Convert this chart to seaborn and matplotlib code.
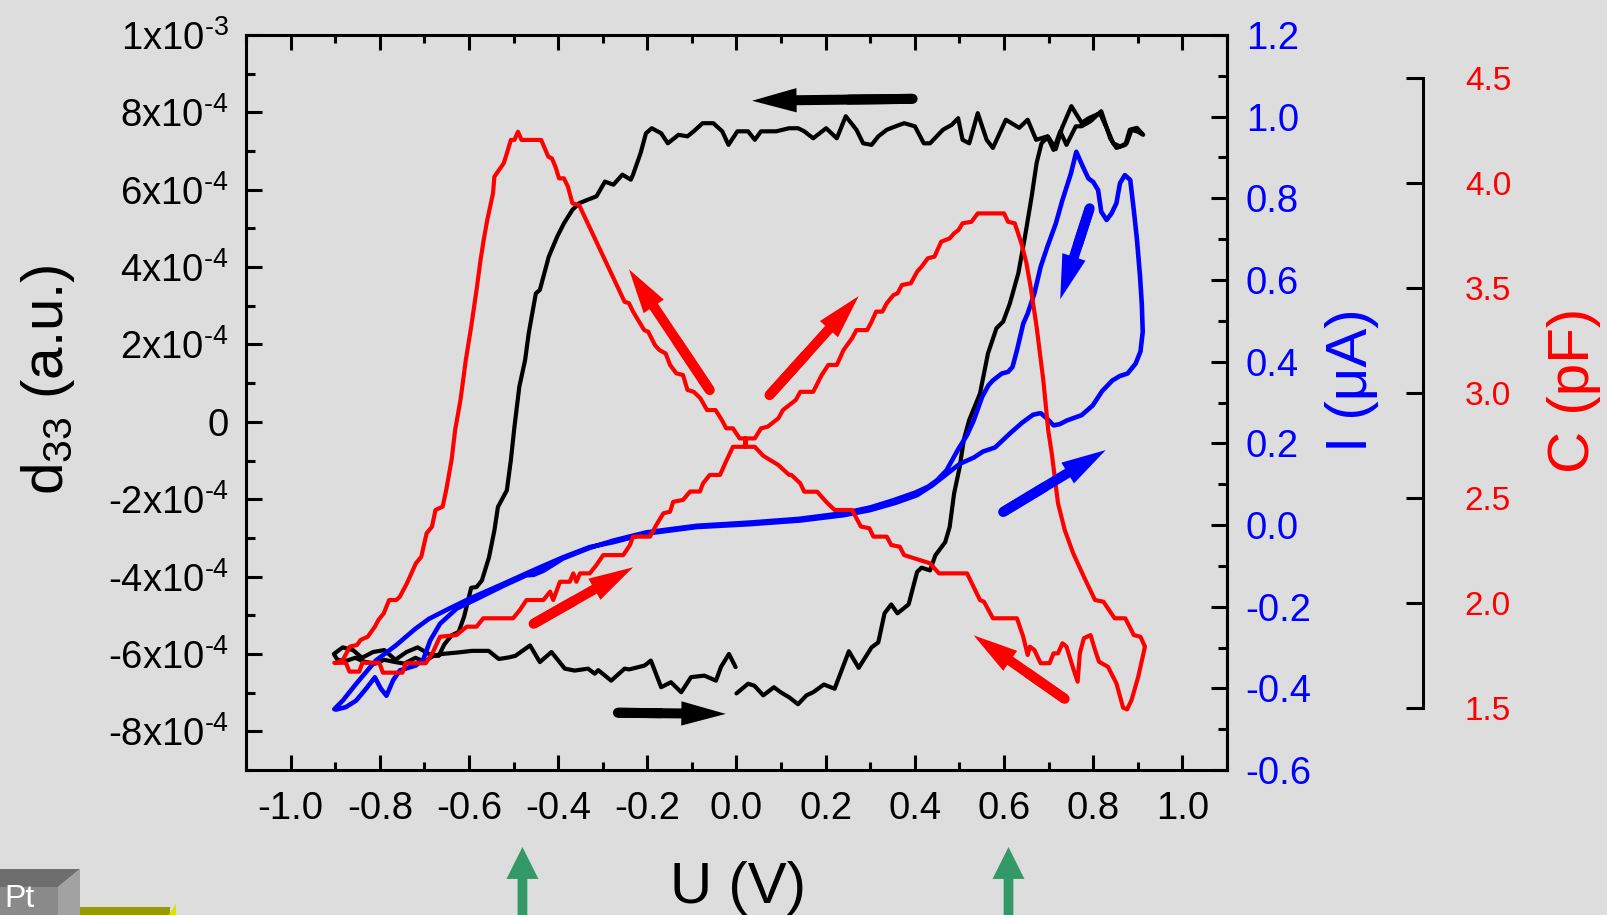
import matplotlib
matplotlib.use("Agg")
import numpy as np
import matplotlib.pyplot as plt
import matplotlib.transforms as mtransforms
from matplotlib.patches import Polygon, FancyArrowPatch, ArrowStyle
from matplotlib.ticker import FixedLocator, MultipleLocator, NullLocator
import seaborn as sns

# ---------------- piezoresponse d33 (units of 1e-4) ----------------
d33_up_u = [0.000, 0.026, 0.040, 0.060, 0.084, 0.099, 0.118, 0.138, 0.157, 0.172,
            0.196, 0.220, 0.252, 0.274, 0.303, 0.318, 0.332, 0.347, 0.361, 0.386,
            0.405, 0.415, 0.434, 0.446, 0.468, 0.478, 0.488, 0.500, 0.510, 0.522,
            0.546, 0.564, 0.583, 0.598, 0.613, 0.632, 0.647, 0.662, 0.673, 0.684,
            0.699, 0.710, 0.716, 0.730, 0.751, 0.774, 0.790, 0.815, 0.830, 0.845,
            0.860, 0.875, 0.886, 0.900, 0.912]
d33_up = [-7.02, -6.77, -6.82, -7.07, -6.86, -6.99, -7.12, -7.30, -7.07, -6.99,
          -6.79, -6.90, -5.93, -6.36, -5.83, -5.70, -4.95, -4.72, -4.95, -4.72,
          -3.88, -3.77, -3.84, -3.45, -3.11, -2.72, -1.85, -1.20, -0.45, 0.05,
          0.73, 1.77, 2.42, 2.59, 3.06, 3.84, 4.79, 5.83, 6.69, 7.20,
          7.37, 7.16, 7.05, 7.60, 8.16, 7.73, 7.85, 7.98, 7.60, 7.20,
          7.12, 7.20, 7.55, 7.50, 7.42]

d33_top_u = [0.898, 0.882, 0.872, 0.852, 0.838, 0.818, 0.794, 0.774, 0.761, 0.740,
             0.726, 0.711, 0.697, 0.672, 0.653, 0.634, 0.604, 0.575, 0.561, 0.541,
             0.522, 0.507, 0.497, 0.483, 0.463, 0.434, 0.420, 0.400, 0.376, 0.357,
             0.337, 0.318, 0.303, 0.284, 0.269, 0.245, 0.225, 0.201, 0.172, 0.152,
             0.138, 0.118, 0.089, 0.055, 0.041, 0.026, 0.002, -0.018, -0.032, -0.052,
             -0.076, -0.096, -0.110, -0.130, -0.154, -0.169, -0.190, -0.203]
d33_top = [7.60, 7.55, 7.16, 7.08, 7.33, 8.03, 7.77, 7.64, 7.64, 7.16,
           7.51, 7.03, 7.38, 7.29, 7.81, 7.60, 7.81, 7.08, 7.29, 7.98,
           7.20, 7.29, 7.85, 7.68, 7.55, 7.20, 7.20, 7.64, 7.72, 7.64,
           7.55, 7.38, 7.16, 7.20, 7.55, 7.90, 7.33, 7.59, 7.33, 7.51,
           7.59, 7.59, 7.51, 7.51, 7.29, 7.51, 7.51, 7.16, 7.51, 7.72,
           7.72, 7.51, 7.38, 7.42, 7.20, 7.46, 7.59, 7.46]

d33_down_u = [-0.215, -0.232, -0.237, -0.256, -0.276, -0.295, -0.314, -0.334, -0.353, -0.368,
              -0.387, -0.402, -0.421, -0.441, -0.450, -0.466, -0.474, -0.487, -0.498, -0.506,
              -0.515, -0.535, -0.543, -0.555, -0.571, -0.583, -0.595, -0.611, -0.623, -0.639,
              -0.655, -0.668, -0.690, -0.715, -0.740, -0.765, -0.790, -0.815, -0.840, -0.860,
              -0.883, -0.903]
d33_down = [6.95, 6.39, 6.26, 6.39, 6.13, 6.21, 5.83, 5.74, 5.65, 5.48,
            5.13, 4.79, 4.27, 3.41, 3.32, 2.29, 1.60, 0.91, -0.13, -0.99,
            -1.77, -2.20, -2.81, -3.50, -4.10, -4.27, -4.29, -5.04, -5.43, -5.52,
            -5.75, -6.05, -6.00, -5.83, -5.95, -6.15, -5.90, -5.95, -6.10, -5.90,
            -5.83, -6.00]

d33_low_u = [-0.895, -0.876, -0.855, -0.835, -0.810, -0.790, -0.770, -0.745, -0.720, -0.700,
             -0.680, -0.660, -0.623, -0.593, -0.556, -0.533, -0.511, -0.496, -0.463, -0.441,
             -0.415, -0.385, -0.363, -0.333, -0.318, -0.310, -0.281, -0.251, -0.241, -0.206,
             -0.192, -0.169, -0.147, -0.124, -0.102, -0.072, -0.046, -0.035, -0.017, -0.002]
d33_low = [-6.15, -6.18, -6.10, -6.20, -6.25, -6.15, -6.20, -6.25, -6.10, -6.20,
           -6.05, -6.00, -5.96, -5.92, -5.92, -6.13, -6.09, -6.05, -5.78, -6.21,
           -5.95, -6.38, -6.43, -6.38, -6.51, -6.42, -6.69, -6.38, -6.40, -6.30,
           -6.17, -6.86, -6.73, -6.99, -6.60, -6.56, -6.69, -6.34, -6.00, -6.34]
D33_UNIT = 1e-4

# ---------------- current I (uA) ----------------
i_fwd_u = [-0.902, -0.883, -0.853, -0.809, -0.764, -0.720, -0.690, -0.645, -0.600, -0.523,
           -0.448, -0.389, -0.329, -0.276, -0.202, -0.089, 0.030, 0.143, 0.240, 0.298,
           0.356, 0.405, 0.439, 0.473, 0.501, 0.532, 0.553, 0.580, 0.613, 0.640,
           0.665, 0.682, 0.695, 0.711, 0.725, 0.741, 0.774, 0.799, 0.820, 0.843,
           0.860, 0.877, 0.895, 0.906, 0.911]
i_fwd = [-0.451, -0.430, -0.389, -0.332, -0.295, -0.254, -0.230, -0.205, -0.181, -0.144,
         -0.107, -0.079, -0.054, -0.042, -0.021, -0.005, 0.002, 0.011, 0.024, 0.036,
         0.054, 0.073, 0.097, 0.126, 0.150, 0.165, 0.180, 0.190, 0.224, 0.250,
         0.270, 0.274, 0.262, 0.244, 0.247, 0.256, 0.269, 0.293, 0.328, 0.354,
         0.365, 0.371, 0.395, 0.425, 0.473]

i_top_u = [0.909, 0.905, 0.898, 0.891, 0.883, 0.871, 0.860, 0.852, 0.841, 0.830,
           0.818, 0.811, 0.800, 0.789, 0.777, 0.762, 0.750, 0.731, 0.716, 0.697,
           0.682, 0.668, 0.653, 0.643, 0.629, 0.619, 0.609, 0.595, 0.575, 0.565,
           0.551, 0.532, 0.517, 0.498, 0.471]
i_top = [0.540, 0.608, 0.700, 0.771, 0.845, 0.857, 0.837, 0.788, 0.763, 0.747,
         0.767, 0.820, 0.840, 0.849, 0.877, 0.914, 0.861, 0.796, 0.738, 0.681,
         0.632, 0.567, 0.518, 0.493, 0.428, 0.387, 0.375, 0.371, 0.354, 0.342,
         0.314, 0.256, 0.220, 0.187, 0.134]

i_back_u = [0.450, 0.430, 0.400, 0.350, 0.300, 0.240, 0.140, 0.030, -0.090, -0.202,
            -0.276, -0.329, -0.389, -0.433, -0.455, -0.471, -0.523, -0.575, -0.628, -0.665,
            -0.687, -0.702, -0.719, -0.755, -0.770, -0.785, -0.798, -0.811, -0.830, -0.853,
            -0.876, -0.898]
i_back = [0.110, 0.094, 0.079, 0.060, 0.043, 0.029, 0.015, 0.006, -0.002, -0.018,
          -0.038, -0.056, -0.082, -0.112, -0.122, -0.123, -0.149, -0.177, -0.205, -0.242,
          -0.283, -0.328, -0.344, -0.356, -0.380, -0.418, -0.400, -0.373, -0.400, -0.430,
          -0.446, -0.452]

# ---------------- capacitance C (pF) ----------------
c_up_u = [-0.902, -0.876, -0.868, -0.846, -0.839, -0.801, -0.793, -0.749, -0.742, -0.697,
          -0.682, -0.665, -0.628, -0.605, -0.583, -0.568, -0.501, -0.486, -0.471, -0.433,
          -0.418, -0.411, -0.396, -0.374, -0.366, -0.359, -0.351, -0.329, -0.314, -0.299,
          -0.254, -0.239, -0.232, -0.194, -0.180, -0.164, -0.149, -0.142, -0.120, -0.104,
          -0.082, -0.075, -0.060, -0.037, -0.022, -0.008, 0.020, 0.020, 0.041, 0.055,
          0.070, 0.094, 0.104, 0.133, 0.143, 0.172, 0.191, 0.206, 0.225, 0.240,
          0.259, 0.269, 0.293, 0.303, 0.313, 0.327, 0.337, 0.352, 0.361, 0.371,
          0.391, 0.405, 0.415, 0.429, 0.444, 0.459, 0.478, 0.488, 0.498, 0.507,
          0.527, 0.541, 0.600, 0.609, 0.624, 0.639, 0.650, 0.660, 0.673, 0.688,
          0.699, 0.707, 0.721, 0.736, 0.755, 0.779, 0.804, 0.823, 0.848, 0.872,
          0.891, 0.906, 0.916]
c_up = [1.714, 1.714, 1.672, 1.672, 1.714, 1.714, 1.667, 1.667, 1.712, 1.712,
        1.759, 1.838, 1.846, 1.886, 1.886, 1.926, 1.926, 1.965, 2.013, 2.013,
        2.053, 2.013, 2.100, 2.100, 2.140, 2.100, 2.140, 2.140, 2.180, 2.227,
        2.227, 2.275, 2.315, 2.315, 2.370, 2.426, 2.434, 2.481, 2.490, 2.530,
        2.530, 2.569, 2.609, 2.609, 2.680, 2.743, 2.743, 2.783, 2.783, 2.831,
        2.839, 2.879, 2.918, 2.966, 3.005, 3.005, 3.085, 3.133, 3.133, 3.204,
        3.260, 3.299, 3.299, 3.339, 3.387, 3.387, 3.427, 3.466, 3.474, 3.514,
        3.522, 3.577, 3.601, 3.641, 3.649, 3.720, 3.736, 3.760, 3.776, 3.808,
        3.815, 3.855, 3.855, 3.815, 3.808, 3.712, 3.620, 3.500, 3.315, 3.061,
        2.823, 2.712, 2.474, 2.347, 2.236, 2.124, 2.013, 2.005, 1.926, 1.926,
        1.846, 1.838, 1.791]

c_down_u = [0.901, 0.886, 0.876, 0.867, 0.852, 0.833, 0.813, 0.804, 0.794, 0.779,
            0.770, 0.765, 0.755, 0.740, 0.731, 0.721, 0.711, 0.702, 0.682, 0.668,
            0.658, 0.653, 0.643, 0.629, 0.575, 0.555, 0.546, 0.517, 0.454, 0.434,
            0.376, 0.366, 0.347, 0.337, 0.307, 0.298, 0.279, 0.259, 0.220, 0.201,
            0.181, 0.152, 0.143, 0.123, 0.118, 0.094, 0.060, 0.041, 0.020, 0.020,
            0.007, -0.008, -0.023, -0.033, -0.047, -0.066, -0.081, -0.096, -0.110, -0.120,
            -0.135, -0.149, -0.159, -0.173, -0.183, -0.198, -0.207, -0.232, -0.241, -0.251,
            -0.353, -0.368, -0.378, -0.387, -0.398, -0.406, -0.414, -0.422, -0.430, -0.438,
            -0.482, -0.490, -0.498, -0.506, -0.515, -0.522, -0.535, -0.543, -0.546, -0.559,
            -0.567, -0.574, -0.583, -0.595, -0.607, -0.619, -0.631, -0.639, -0.651, -0.659,
            -0.675, -0.683, -0.695, -0.707, -0.719, -0.739, -0.755, -0.763, -0.779, -0.791,
            -0.803, -0.811, -0.827, -0.843, -0.851, -0.867, -0.875, -0.883, -0.899]
c_down = [1.648, 1.537, 1.492, 1.500, 1.616, 1.695, 1.719, 1.775, 1.846, 1.831,
          1.759, 1.624, 1.688, 1.791, 1.807, 1.759, 1.759, 1.712, 1.712, 1.775,
          1.791, 1.751, 1.838, 1.926, 1.926, 2.005, 2.013, 2.140, 2.140, 2.188,
          2.227, 2.267, 2.275, 2.315, 2.315, 2.355, 2.363, 2.442, 2.442, 2.481,
          2.529, 2.529, 2.569, 2.609, 2.609, 2.656, 2.700, 2.743, 2.743, 2.783,
          2.783, 2.831, 2.831, 2.871, 2.918, 2.918, 2.974, 3.005, 3.014, 3.085,
          3.093, 3.133, 3.188, 3.204, 3.228, 3.291, 3.299, 3.387, 3.427, 3.434,
          3.895, 3.903, 3.982, 4.022, 4.022, 4.077, 4.117, 4.125, 4.165, 4.205,
          4.205, 4.244, 4.205, 4.205, 4.141, 4.094, 4.054, 4.030, 3.951, 3.823,
          3.728, 3.633, 3.490, 3.315, 3.157, 2.966, 2.823, 2.680, 2.537, 2.458,
          2.442, 2.362, 2.331, 2.219, 2.188, 2.093, 2.029, 2.013, 2.013, 1.950,
          1.918, 1.886, 1.838, 1.823, 1.799, 1.791, 1.759, 1.727, 1.712]

# ---------------- ticks ----------------
u_ticks = [-1.0, -0.8, -0.6, -0.4, -0.2, 0.0, 0.2, 0.4, 0.6, 0.8, 1.0]
u_tick_labels = ["-1.0", "-0.8", "-0.6", "-0.4", "-0.2", "0.0", "0.2", "0.4", "0.6", "0.8", "1.0"]
d33_ticks = [-8e-4, -6e-4, -4e-4, -2e-4, 0.0, 2e-4, 4e-4, 6e-4, 8e-4, 1e-3]
d33_tick_labels = [r"-8x10$^{\text{-4}}$", r"-6x10$^{\text{-4}}$", r"-4x10$^{\text{-4}}$",
                   r"-2x10$^{\text{-4}}$", "0", r"2x10$^{\text{-4}}$", r"4x10$^{\text{-4}}$",
                   r"6x10$^{\text{-4}}$", r"8x10$^{\text{-4}}$", r"1x10$^{\text{-3}}$"]
i_ticks = [-0.6, -0.4, -0.2, 0.0, 0.2, 0.4, 0.6, 0.8, 1.0, 1.2]
i_tick_labels = ["-0.6", "-0.4", "-0.2", "0.0", "0.2", "0.4", "0.6", "0.8", "1.0", "1.2"]
c_ticks = [1.5, 2.0, 2.5, 3.0, 3.5, 4.0, 4.5]
c_tick_labels = ["1.5", "2.0", "2.5", "3.0", "3.5", "4.0", "4.5"]

# sweep-direction arrows: (colour, tail (U, d33 in 1e-4), tip (U, d33 in 1e-4))
sweep_arrows = [
    ("black", (0.395, 8.35), (0.035, 8.30)),
    ("black", (-0.266, -7.52), (-0.024, -7.55)),
    ("red", (-0.060, 0.82), (-0.241, 3.94)),
    ("red", (0.074, 0.69), (0.274, 3.25)),
    ("red", (-0.455, -5.22), (-0.232, -3.76)),
    ("red", (0.736, -7.16), (0.532, -5.52)),
    ("blue", (0.792, 5.52), (0.726, 3.17)),
    ("blue", (0.598, -2.33), (0.828, -0.73)),
]
# switching voltages marked below the axis
switch_u = [-0.48, 0.61]

# ---------------- style ----------------
BG = "#dddddd"
sns.set_theme(style="ticks")
plt.rcParams["font.family"] = ["Liberation Sans", "DejaVu Sans"]
plt.rcParams["mathtext.fontset"] = "custom"
plt.rcParams["mathtext.rm"] = "Liberation Sans"
plt.rcParams["mathtext.it"] = "Liberation Sans:italic"
plt.rcParams["mathtext.bf"] = "Liberation Sans:bold"
plt.rcParams["mathtext.default"] = "regular"
for key in ("text.color", "axes.labelcolor", "xtick.color", "ytick.color",
            "xtick.labelcolor", "ytick.labelcolor", "axes.edgecolor"):
    plt.rcParams[key] = "black"

W, H = 1608, 915
fig = plt.figure(figsize=(W / 100, H / 100), dpi=100, facecolor=BG)
ax = fig.add_axes([246 / W, 1 - 770 / H, 981 / W, 735 / H])
ax.set_facecolor(BG)
ax2 = ax.twinx()
ax3 = ax.twinx()
for a in (ax2, ax3):
    a.patch.set_visible(False)

LW_SPINE = 2.2
TICK_FS = 27.5

# ---- curves ----
u_d33 = d33_up_u + d33_top_u + d33_down_u + d33_low_u
d33 = np.array(d33_up + d33_top + d33_down + d33_low) * D33_UNIT
sns.lineplot(x=u_d33, y=d33, sort=False, estimator=None, errorbar=None,
             color="black", linewidth=3.0, ax=ax)

u_i = i_fwd_u + i_top_u + i_back_u
cur = i_fwd + i_top + i_back
sns.lineplot(x=u_i, y=cur, sort=False, estimator=None, errorbar=None,
             color="#0000ff", linewidth=3.3, ax=ax2)

u_c = c_up_u + c_down_u
cap = c_up + c_down
sns.lineplot(x=u_c, y=cap, sort=False, estimator=None, errorbar=None,
             color="#ff0000", linewidth=3.0, ax=ax3)

# ---- main axes (d33 vs U) ----
ax.set_xlim(-1.1, 1.1)
ax.set_ylim(-9e-4, 1e-3)
ax.xaxis.set_major_locator(FixedLocator(u_ticks))
ax.set_xticklabels(u_tick_labels)
ax.xaxis.set_minor_locator(MultipleLocator(0.1))
ax.yaxis.set_major_locator(FixedLocator(d33_ticks))
ax.set_yticklabels(d33_tick_labels)
ax.yaxis.set_minor_locator(MultipleLocator(1e-4))
ax.tick_params(axis="x", which="major", direction="in", length=11, width=LW_SPINE,
               labelsize=TICK_FS, pad=15, top=True, bottom=True, color="black",
               labelcolor="black")
ax.tick_params(axis="x", which="minor", direction="in", length=6, width=LW_SPINE,
               top=True, bottom=True, color="black")
ax.tick_params(axis="y", which="major", direction="in", length=11.5, width=LW_SPINE,
               labelsize=TICK_FS, pad=12.5, left=True, right=False, color="black",
               labelcolor="black")
ax.tick_params(axis="y", which="minor", direction="in", length=6.4, width=LW_SPINE,
               left=True, right=False, color="black")
for s in ax.spines.values():
    s.set_visible(True)
    s.set_linewidth(LW_SPINE)
    s.set_color("black")

ax.set_xlabel("U (V)", fontsize=42, color="black")
ax.xaxis.label.set_va("baseline")
ax.xaxis.set_label_coords(0.5015, -0.181)
ax.set_ylabel(r"d$_{33}$ (a.u.)", fontsize=42, color="black")
ax.yaxis.label.set_va("baseline")
ax.yaxis.set_label_coords(-0.187, 0.531)

# ---- current axis ----
ax2.set_ylim(-0.6, 1.2)
ax2.yaxis.set_major_locator(FixedLocator(i_ticks))
ax2.set_yticklabels(i_tick_labels)
ax2.yaxis.set_minor_locator(MultipleLocator(0.1))
ax2.tick_params(axis="y", which="major", direction="in", length=11.3, width=LW_SPINE,
                labelsize=TICK_FS, labelcolor="#0000ff", color="black", pad=13.5)
ax2.tick_params(axis="y", which="minor", direction="in", length=6.4, width=LW_SPINE,
                color="black")
for k in ("left", "top", "bottom"):
    ax2.spines[k].set_visible(False)
ax2.spines["right"].set_linewidth(LW_SPINE)
ax2.spines["right"].set_color("black")
ax2.set_ylabel("I (\u03bcA)", fontsize=42, color="#0000ff")
ax2.yaxis.label.set_va("baseline")
ax2.yaxis.set_label_coords(1.1427, 0.531)

# ---- capacitance axis ----
ax3.set_ylim(1.2032, 4.7049)
ax3.spines["right"].set_position(("axes", 1.2))
ax3.spines["right"].set_bounds(1.5, 4.5)
ax3.spines["right"].set_linewidth(LW_SPINE)
ax3.spines["right"].set_color("black")
for k in ("left", "top", "bottom"):
    ax3.spines[k].set_visible(False)
ax3.yaxis.set_major_locator(FixedLocator(c_ticks))
ax3.set_yticklabels(c_tick_labels)
ax3.yaxis.set_minor_locator(NullLocator())
ax3.tick_params(axis="y", which="major", direction="in", length=12, width=LW_SPINE,
                labelsize=24, labelcolor="#ff0000", color="black", pad=30)
ax3.set_ylabel("C (pF)", fontsize=42, color="#ff0000")
ax3.yaxis.label.set_va("baseline")
ax3.yaxis.set_label_coords(1.369, 0.517)


# ---- sweep direction arrows ----
def sweep_arrow(color, tail, tip, tail_w=7.2, head_w=17.5, head_l=32):
    t = (tail[0], tail[1] * D33_UNIT)
    p = (tip[0], tip[1] * D33_UNIT)
    body = FancyArrowPatch(t, p, transform=ax.transData,
                           arrowstyle=ArrowStyle.Simple(head_length=head_l, head_width=head_w,
                                                        tail_width=tail_w),
                           mutation_scale=1, lw=0, color=color,
                           shrinkA=0, shrinkB=0, zorder=6)
    ax3.add_artist(body)
    mid = (t[0] + 0.4 * (p[0] - t[0]), t[1] + 0.4 * (p[1] - t[1]))
    cap_end = FancyArrowPatch(t, mid, transform=ax.transData, arrowstyle="-",
                              lw=tail_w, capstyle="round", color=color,
                              shrinkA=0, shrinkB=0, zorder=6)
    ax3.add_artist(cap_end)


for col, tail, tip in sweep_arrows:
    c = {"black": "black", "red": "#ff0000", "blue": "#0000ff"}[col]
    sweep_arrow(c, tail, tip)

# ---- switching-voltage markers below the axis ----
blend = mtransforms.blended_transform_factory(ax.transData, fig.transFigure)
for u in switch_u:
    fig.add_artist(FancyArrowPatch((u, -0.05), (u, 1 - 847 / H), transform=blend,
                                   arrowstyle=ArrowStyle.Simple(head_length=23, head_width=23,
                                                                tail_width=7),
                                   mutation_scale=1, lw=0, color="#339966",
                                   shrinkA=0, shrinkB=0))


# ---- electrode sketch in the lower-left corner ----
def fp(x, y):
    return (x / W, 1 - y / H)


fig.add_artist(Polygon([fp(0, 869), fp(80, 869), fp(58, 887), fp(0, 887)],
                       closed=True, transform=fig.transFigure, color="#6e6e6e", lw=0))
fig.add_artist(Polygon([fp(0, 887), fp(58, 887), fp(58, 916), fp(0, 916)],
                       closed=True, transform=fig.transFigure, color="#8a8a8a", lw=0))
fig.add_artist(Polygon([fp(58, 887), fp(80, 869), fp(80, 916), fp(58, 916)],
                       closed=True, transform=fig.transFigure, color="#a2a2a2", lw=0))
fig.add_artist(Polygon([fp(80, 907), fp(170, 907), fp(170, 916), fp(80, 916)],
                       closed=True, transform=fig.transFigure, color="#999900", lw=0))
fig.add_artist(Polygon([fp(168, 916), fp(176, 904), fp(176, 916)],
                       closed=True, transform=fig.transFigure, color="#e0e000", lw=0))
fig.text(4 / W, 1 - 914 / H, "Pt", color="white", fontsize=23, va="bottom", ha="left")

fig.savefig("out.png", dpi=100, facecolor=BG)
